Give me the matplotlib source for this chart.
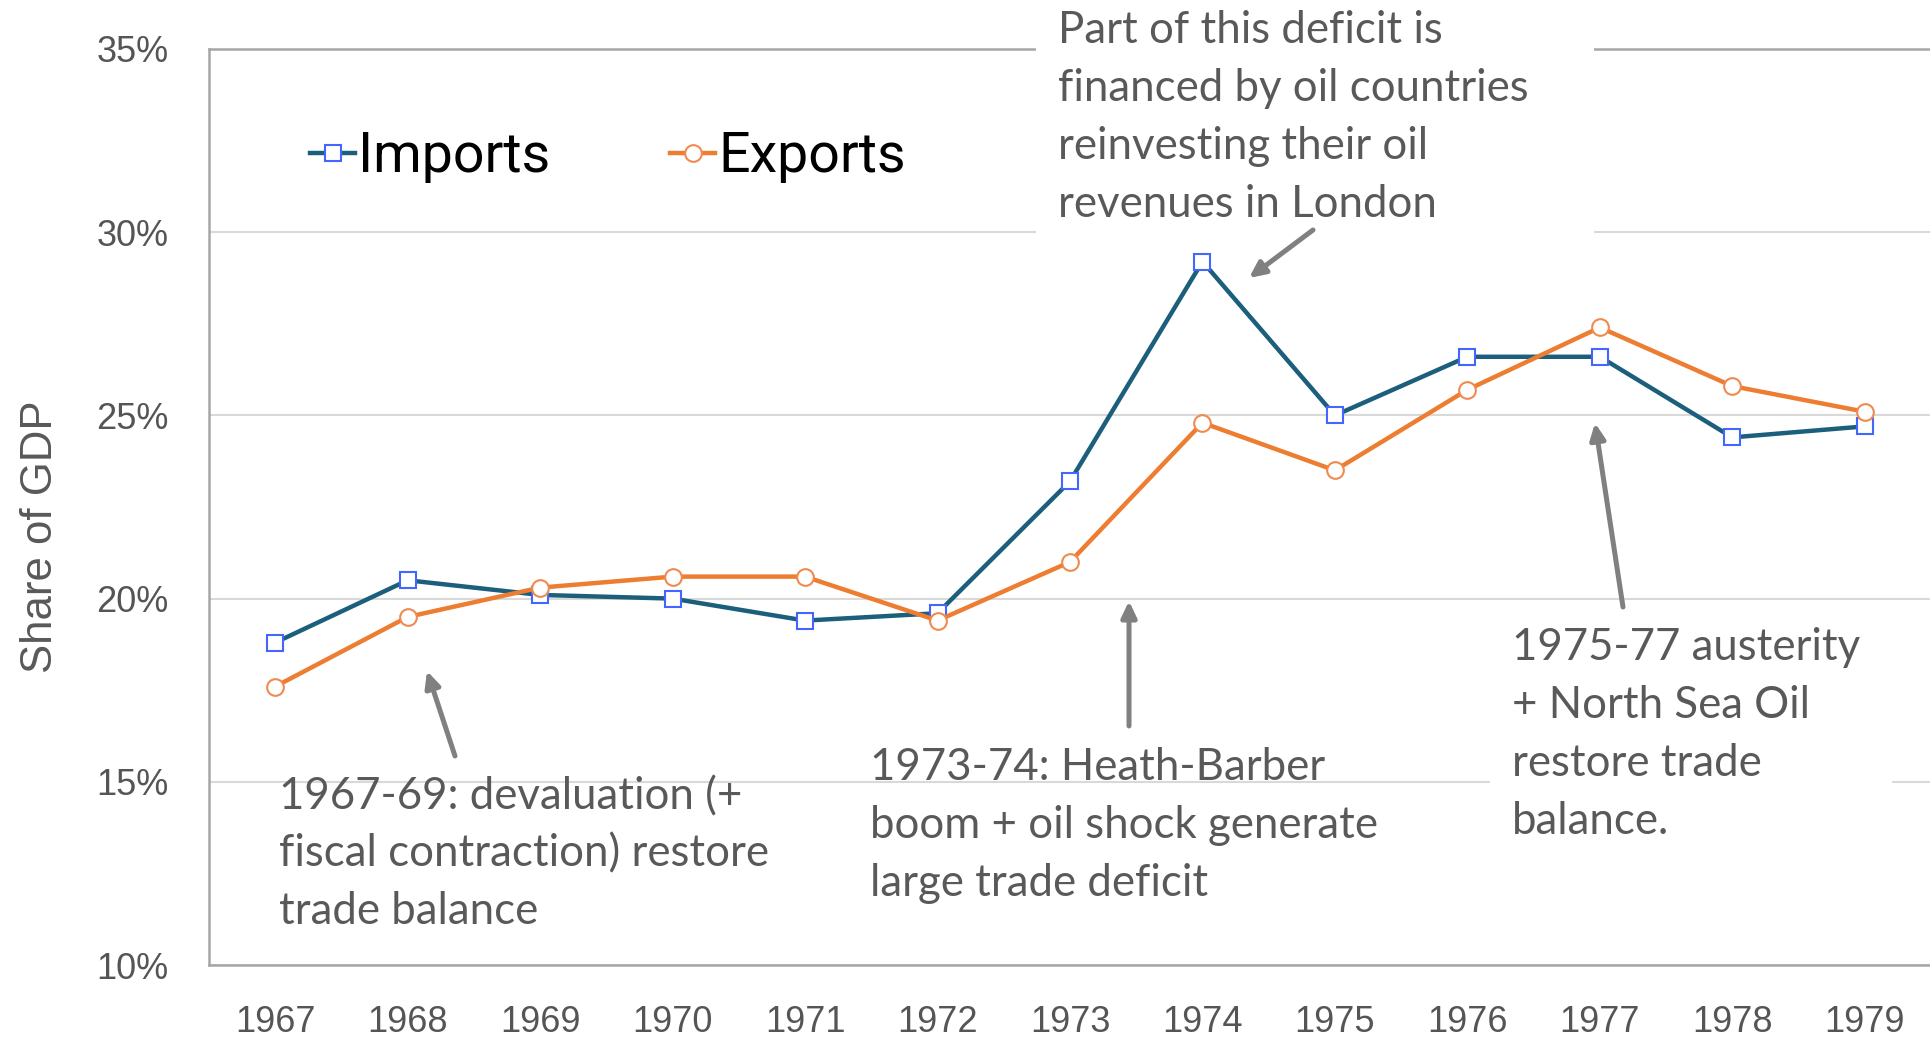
import matplotlib
matplotlib.use('Agg')
import matplotlib.pyplot as plt
from matplotlib.patches import Rectangle, FancyArrowPatch
from matplotlib.font_manager import FontProperties
import numpy as np

# ---- data ----
years = ['1967', '1968', '1969', '1970', '1971', '1972', '1973',
         '1974', '1975', '1976', '1977', '1978', '1979']
imports = [18.8, 20.5, 20.1, 20.0, 19.4, 19.6, 23.2, 29.2, 25.0, 26.6, 26.6, 24.4, 24.7]
exports = [17.6, 19.5, 20.3, 20.6, 20.6, 19.4, 21.0, 24.8, 23.5, 25.7, 27.4, 25.8, 25.1]
y_ticks = [10, 15, 20, 25, 30, 35]
y_tick_labels = ['10%', '15%', '20%', '25%', '30%', '35%']
y_label = 'Share of GDP'
series_names = ['Imports', 'Exports']

note_oil = ['Part of this deficit is', 'financed by oil countries',
            'reinvesting their oil', 'revenues in London']
note_deval = ['1967-69: devaluation (+', 'fiscal contraction) restore', 'trade balance']
note_boom = ['1973-74: Heath-Barber', 'boom + oil shock generate', 'large trade deficit']
note_aust = ['1975-77 austerity', '+ North Sea Oil', 'restore trade', 'balance.']

W, H = 1931, 1038
fig = plt.figure(figsize=(W / 100, H / 100), dpi=100)
fig.patch.set_facecolor('white')


def fxy(px, py):
    return (px / W, 1 - py / H)


ax = fig.add_axes([209 / W, 1 - 965 / H, 1 - 209 / W, (965 - 49) / H])
x = np.arange(len(years))
ax.plot(x, imports, color='#1B5F7C', lw=3.2, marker='s', ms=12, mfc='white',
        mec='#4466FF', mew=1.5, label=series_names[0], zorder=4)
ax.plot(x, exports, color='#ED7D31', lw=3.2, marker='o', ms=12, mfc='white',
        mec='#F08A50', mew=1.5, label=series_names[1], zorder=4)
ax.set_xlim(-0.5, len(years) - 0.5)
ax.set_ylim(10, 35)
ax.set_yticks(y_ticks)
ax.set_yticklabels(y_tick_labels)
ax.set_xticks(x)
ax.set_xticklabels(years)
ax.tick_params(length=0, pad=29, labelsize=26, labelcolor='#555555')
for lab in ax.get_xticklabels() + ax.get_yticklabels():
    lab.set_fontfamily('Liberation Sans')
ax.grid(axis='y', color='#d9d9d9', lw=1.5)
ax.set_axisbelow(True)
ax.spines['right'].set_visible(False)
for s in ['left', 'top', 'bottom']:
    ax.spines[s].set_color('#a6a6a6')
    ax.spines[s].set_linewidth(1.8)

fig.text(41 / W, 1 - 537 / H, y_label, rotation=90, ha='center', va='center',
         fontsize=31.5, family='Liberation Sans', color='#595959')

handles, labels = ax.get_legend_handles_labels()
fig.legend(handles, labels, loc='center left', bbox_to_anchor=fxy(310, 157),
           ncol=2, frameon=False, prop=FontProperties(family='Roboto', size=40),
           handlelength=0.81, handletextpad=0.06, columnspacing=2.15,
           borderpad=0, borderaxespad=0)

# white boxes behind two notes
fig.add_artist(Rectangle(fxy(1036, 240), (1594 - 1036) / W, 240 / H,
                         transform=fig.transFigure, fc='white', ec='none', zorder=1))
fig.add_artist(Rectangle(fxy(1490, 850), (1892 - 1490) / W, (850 - 612) / H,
                         transform=fig.transFigure, fc='white', ec='none', zorder=1))


def draw_note(lines, x0, y0, step):
    for i, s in enumerate(lines):
        fig.text(*fxy(x0, y0 + i * step), s, ha='left', va='baseline',
                 fontsize=31.5, family='Lato', color='#595959', zorder=5)


draw_note(note_oil, 1058, 43, 58)
draw_note(note_deval, 279, 809, 57.5)
draw_note(note_boom, 870, 780, 58)
draw_note(note_aust, 1512, 660, 58)


def arrow(tail, head):
    a = FancyArrowPatch(fxy(*tail), fxy(*head), transform=fig.transFigure,
                        arrowstyle='-|>,head_length=9.5,head_width=4.5',
                        mutation_scale=1, color='#808080', lw=3.6,
                        shrinkA=0, shrinkB=0, zorder=6)
    fig.add_artist(a)


arrow((1313, 230), (1249, 278))
arrow((455, 756), (427, 671))
arrow((1129, 726), (1129, 601))
arrow((1623, 607), (1595, 423))

fig.savefig('out.png', dpi=100, facecolor='white')
